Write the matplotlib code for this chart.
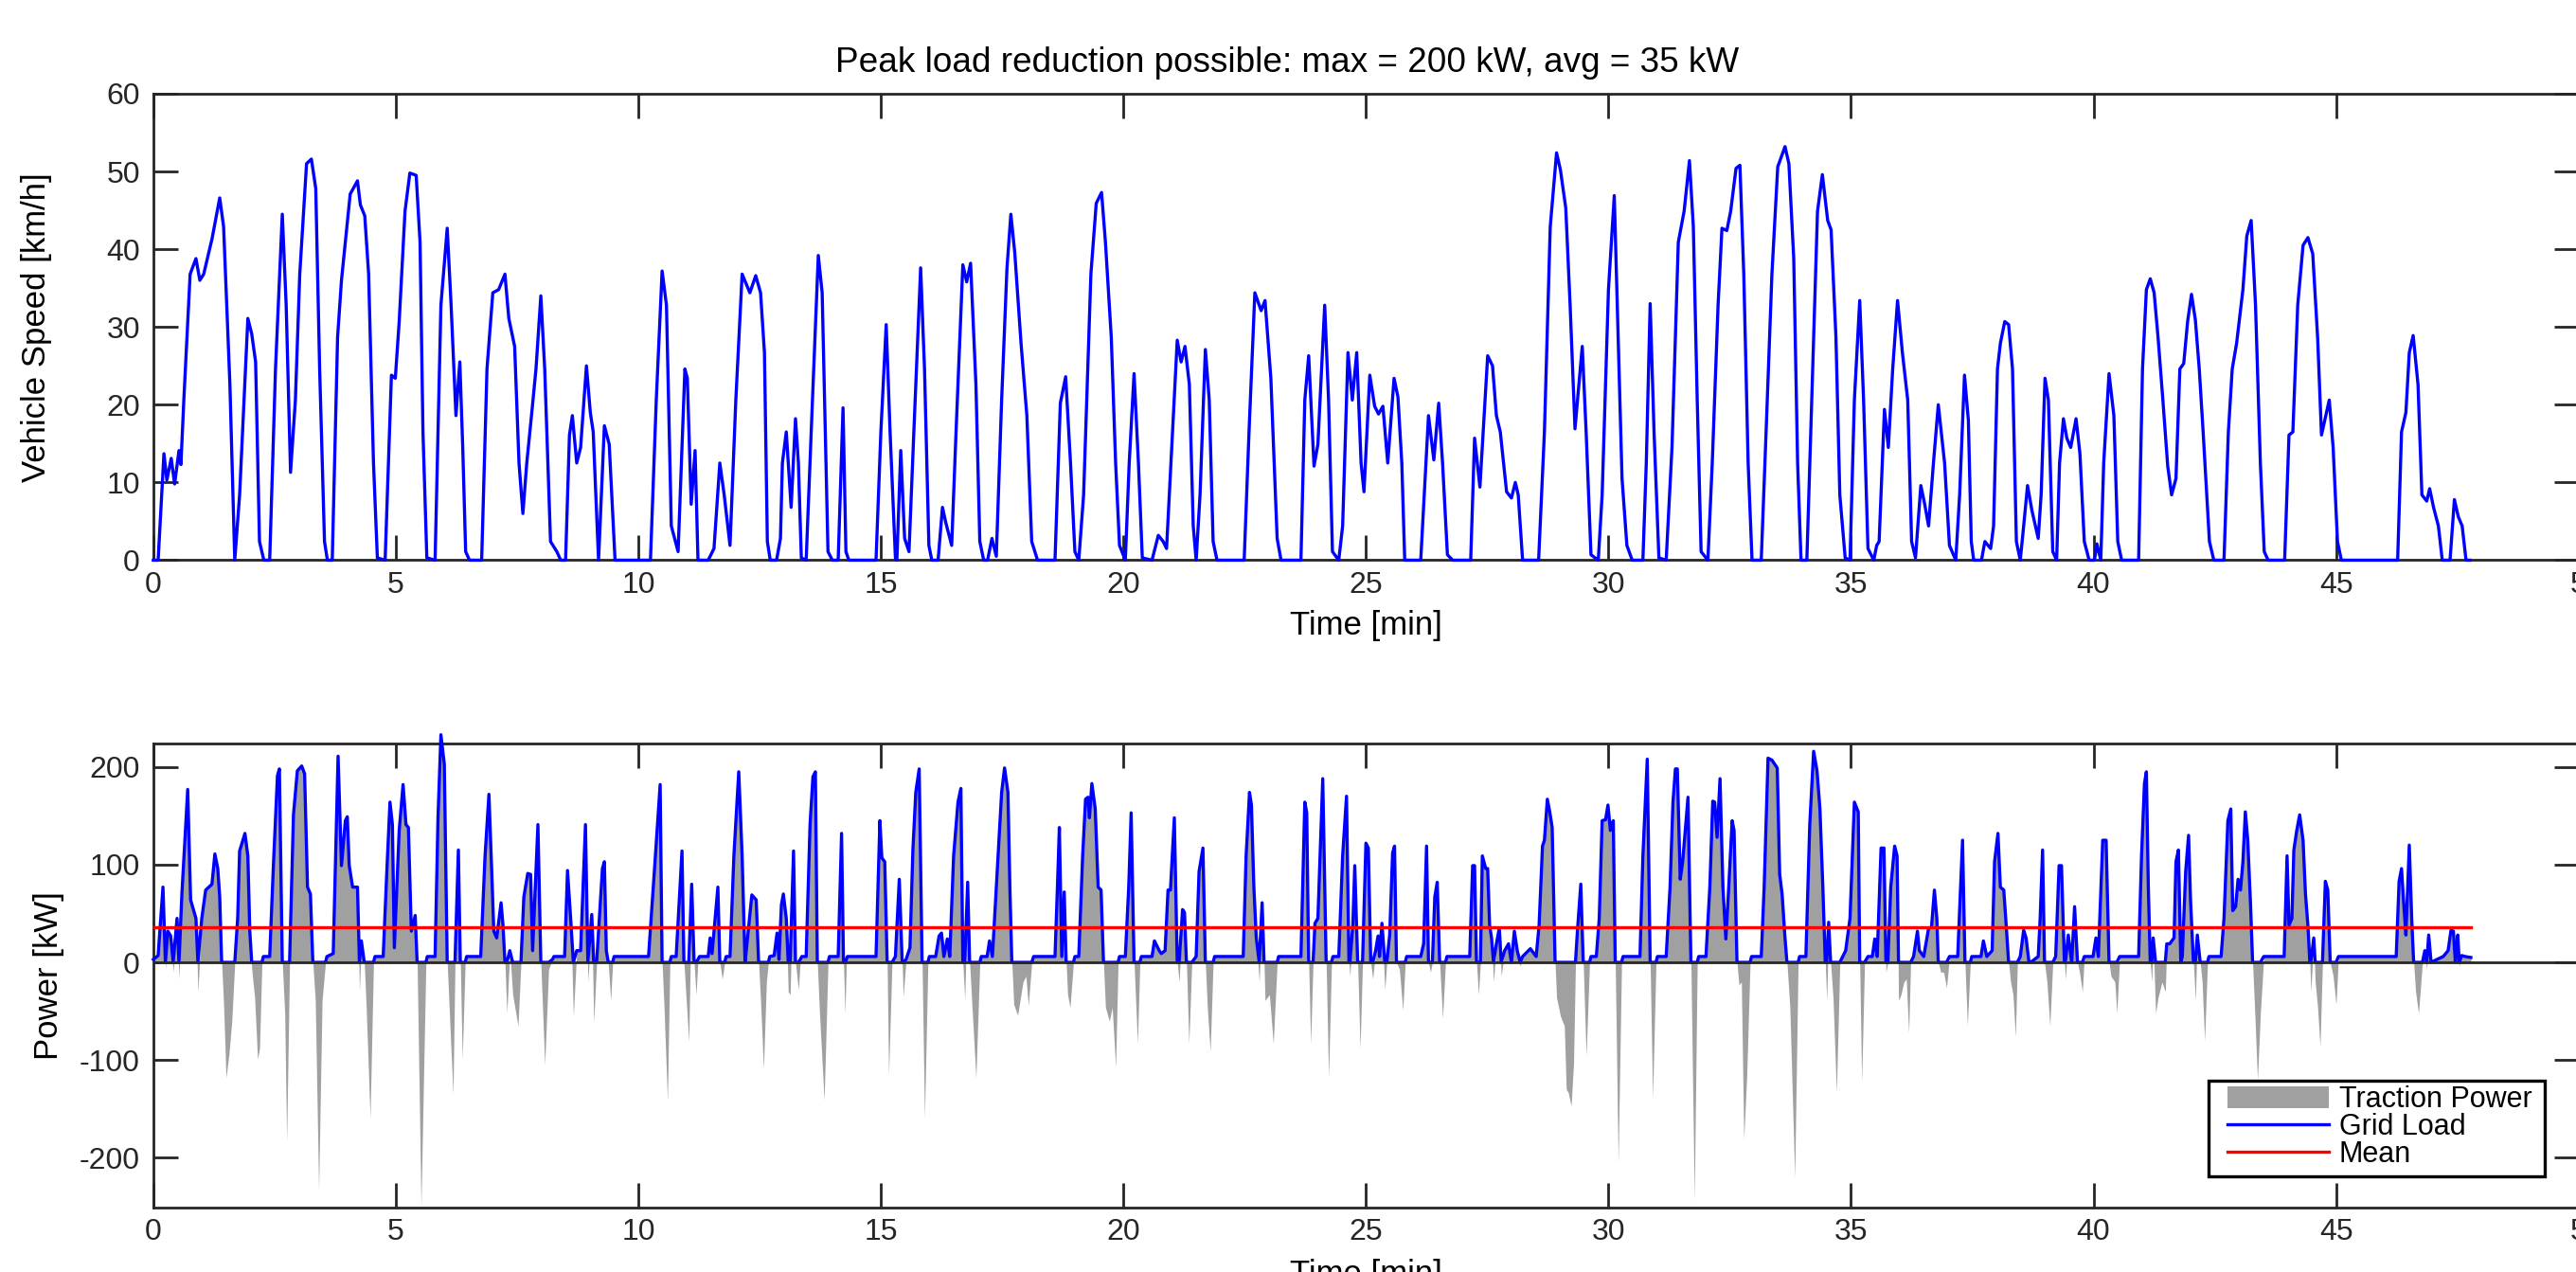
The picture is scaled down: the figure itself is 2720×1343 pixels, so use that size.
import matplotlib
matplotlib.use("Agg")
import matplotlib.pyplot as plt
from matplotlib.patches import Rectangle

plt.rcParams["font.family"] = ["Liberation Sans", "DejaVu Sans"]
plt.rcParams["axes.unicode_minus"] = False

# speed trace (min, km/h)
speed_t = [
    0.00, 0.10, 0.22, 0.28, 0.37, 0.44, 0.53, 0.57, 0.63, 0.76,
    0.88, 0.96, 1.04, 1.21, 1.37, 1.45, 1.58, 1.68, 1.78, 1.95,
    2.03, 2.11, 2.19, 2.28, 2.40, 2.52, 2.66, 2.74, 2.83, 2.93,
    3.02, 3.16, 3.26, 3.35, 3.43, 3.53, 3.59, 3.69, 3.80, 3.88,
    3.96, 4.06, 4.21, 4.27, 4.36, 4.44, 4.54, 4.62, 4.78, 4.91,
    4.99, 5.07, 5.19, 5.29, 5.42, 5.50, 5.56, 5.64, 5.81, 5.93,
    6.06, 6.14, 6.24, 6.32, 6.38, 6.44, 6.52, 6.77, 6.88, 7.00,
    7.12, 7.25, 7.33, 7.45, 7.54, 7.62, 7.70, 7.81, 7.89, 7.99,
    8.07, 8.19, 8.32, 8.40, 8.50, 8.58, 8.64, 8.73, 8.81, 8.93,
    9.01, 9.07, 9.18, 9.30, 9.40, 9.52, 10.25, 10.37, 10.49, 10.58,
    10.68, 10.82, 10.96, 11.01, 11.09, 11.17, 11.23, 11.44, 11.56, 11.68,
    11.77, 11.89, 12.01, 12.14, 12.30, 12.42, 12.52, 12.60, 12.66, 12.72,
    12.85, 12.93, 12.97, 13.05, 13.15, 13.24, 13.30, 13.36, 13.46, 13.59,
    13.71, 13.79, 13.91, 14.00, 14.12, 14.22, 14.28, 14.34, 14.90, 15.00,
    15.11, 15.19, 15.30, 15.33, 15.41, 15.49, 15.58, 15.68, 15.82, 15.90,
    15.99, 16.05, 16.18, 16.27, 16.34, 16.46, 16.55, 16.69, 16.77, 16.85,
    16.96, 17.04, 17.12, 17.20, 17.29, 17.38, 17.49, 17.60, 17.68, 17.76,
    17.89, 18.01, 18.11, 18.23, 18.59, 18.70, 18.81, 18.91, 19.00, 19.08,
    19.18, 19.33, 19.44, 19.55, 19.63, 19.75, 19.84, 19.92, 20.04, 20.12,
    20.22, 20.31, 20.39, 20.59, 20.72, 20.82, 20.89, 20.97, 21.11, 21.19,
    21.27, 21.36, 21.44, 21.50, 21.58, 21.69, 21.77, 21.85, 21.93, 22.49,
    22.59, 22.71, 22.84, 22.92, 23.04, 23.17, 23.25, 23.66, 23.74, 23.82,
    23.93, 24.01, 24.15, 24.23, 24.31, 24.44, 24.52, 24.63, 24.72, 24.81,
    24.90, 24.96, 25.08, 25.18, 25.26, 25.35, 25.45, 25.58, 25.66, 25.74,
    25.80, 26.13, 26.29, 26.40, 26.50, 26.58, 26.68, 26.79, 27.16, 27.24,
    27.35, 27.51, 27.61, 27.69, 27.77, 27.90, 28.00, 28.08, 28.14, 28.23,
    28.56, 28.68, 28.80, 28.93, 29.01, 29.12, 29.21, 29.31, 29.46, 29.54,
    29.64, 29.79, 29.87, 30.00, 30.12, 30.20, 30.28, 30.38, 30.49, 30.71,
    30.78, 30.86, 30.94, 31.04, 31.19, 31.31, 31.44, 31.56, 31.67, 31.75,
    31.83, 31.91, 32.05, 32.14, 32.26, 32.34, 32.44, 32.52, 32.63, 32.71,
    32.79, 32.88, 32.96, 33.15, 33.25, 33.37, 33.49, 33.64, 33.72, 33.82,
    33.90, 33.97, 34.09, 34.19, 34.31, 34.41, 34.52, 34.59, 34.69, 34.77,
    34.88, 34.98, 35.07, 35.18, 35.26, 35.35, 35.47, 35.53, 35.58, 35.69,
    35.77, 35.86, 35.96, 36.06, 36.17, 36.25, 36.33, 36.44, 36.52, 36.60,
    36.70, 36.80, 36.93, 37.03, 37.16, 37.24, 37.34, 37.42, 37.48, 37.53,
    37.69, 37.76, 37.88, 37.94, 38.02, 38.08, 38.17, 38.25, 38.33, 38.41,
    38.49, 38.56, 38.64, 38.73, 38.86, 38.92, 39.00, 39.07, 39.16, 39.24,
    39.30, 39.38, 39.45, 39.53, 39.64, 39.72, 39.81, 39.91, 40.02, 40.07,
    40.15, 40.21, 40.32, 40.42, 40.50, 40.58, 40.93, 41.01, 41.09, 41.17,
    41.25, 41.33, 41.43, 41.53, 41.61, 41.70, 41.78, 41.86, 41.94, 42.02,
    42.10, 42.18, 42.26, 42.39, 42.48, 42.69, 42.78, 42.86, 42.95, 43.08,
    43.16, 43.25, 43.34, 43.44, 43.52, 43.60, 43.94, 44.03, 44.11, 44.21,
    44.32, 44.42, 44.52, 44.62, 44.70, 44.86, 44.94, 45.03, 45.11, 46.27,
    46.35, 46.44, 46.51, 46.59, 46.69, 46.77, 46.87, 46.93, 47.01, 47.11,
    47.19, 47.35, 47.44, 47.52, 47.60, 47.68, 47.76,
]
speed_kmh = [
    0, 0, 13.7, 10.3, 13.1, 9.8, 14.1, 12.3, 20.6, 36.8,
    38.8, 36, 36.8, 41.3, 46.6, 42.9, 22.6, 0, 8.4, 31.1,
    29.1, 25.5, 2.4, 0, 0, 24.6, 44.5, 32.8, 11.3, 20.6,
    36.8, 51, 51.6, 47.8, 24.6, 2.4, 0, 0, 28.7, 36,
    40.9, 47.1, 48.8, 45.7, 44.3, 36.8, 12.5, 0.3, 0, 23.8,
    23.4, 30.7, 44.9, 49.8, 49.5, 40.9, 16.5, 0.3, 0, 32.8,
    42.7, 32.8, 18.6, 25.5, 14.5, 1.1, 0, 0, 24.6, 34.4,
    34.8, 36.8, 31.1, 27.5, 12.5, 6, 12.5, 19.4, 24.6, 34,
    24.6, 2.4, 1.1, 0, 0, 16.1, 18.6, 12.5, 14.5, 25,
    19, 16.5, 0, 17.3, 14.9, 0, 0, 20.6, 37.2, 32.8,
    4.4, 1.1, 24.6, 23.4, 7.2, 14.1, 0, 0, 1.5, 12.5,
    8.4, 1.9, 20.6, 36.8, 34.4, 36.6, 34.4, 26.7, 2.4, 0,
    0, 2.8, 12.5, 16.5, 6.8, 18.2, 12.5, 0.3, 0, 20.6,
    39.2, 34.4, 1.1, 0, 0, 19.6, 1.1, 0, 0, 16.5,
    30.3, 16.5, 0.3, 0, 14.1, 2.8, 1.1, 16.5, 37.6, 24.6,
    1.9, 0, 0, 6.8, 4.8, 1.9, 16.5, 38, 35.8, 38.2,
    22.6, 2.4, 0, 0, 2.8, 0.5, 20.6, 37.6, 44.5, 39.6,
    27.9, 18.6, 2.4, 0, 0, 20.2, 23.6, 12.5, 1.1, 0,
    8.4, 36.8, 45.9, 47.3, 40.9, 28.7, 12.5, 1.9, 0, 12.5,
    24, 12.5, 0.3, 0, 3.2, 2.4, 1.5, 11.3, 28.3, 25.5,
    27.5, 22.6, 4.4, 0, 8.4, 27.1, 20.6, 2.4, 0, 0,
    16.5, 34.4, 32.1, 33.4, 23.4, 2.8, 0, 0, 20.6, 26.3,
    12.1, 14.9, 32.8, 20.6, 1.1, 0, 4.4, 26.7, 20.6, 26.7,
    12.5, 8.8, 23.8, 19.8, 18.8, 19.8, 12.5, 23.4, 21, 12.5,
    0, 0, 18.6, 12.9, 20.2, 12.5, 0.7, 0, 0, 15.7,
    9.4, 26.3, 25, 18.6, 16.5, 8.8, 8, 10, 8.4, 0,
    0, 16.5, 42.9, 52.4, 50.2, 45.3, 32.8, 16.9, 27.5, 16.5,
    0.7, 0, 8.4, 34.8, 46.9, 28.7, 10.5, 1.9, 0, 0,
    12.5, 33, 16.5, 0.3, 0, 14.5, 40.9, 44.9, 51.4, 42.9,
    20.6, 1.1, 0, 12.5, 32.8, 42.7, 42.4, 44.9, 50.4, 50.8,
    36.8, 12.5, 0, 0, 16.5, 36.8, 50.6, 53.2, 51, 38.8,
    12.5, 0, 0, 20.6, 44.9, 49.6, 43.7, 42.5, 28.7, 8.4,
    0.3, 0, 20.6, 33.4, 20.6, 1.5, 0, 1.9, 2.4, 19.4,
    14.5, 24.6, 33.4, 26.7, 20.6, 2.4, 0.3, 9.6, 7.2, 4.4,
    12.5, 20, 12.5, 1.9, 0, 8.4, 23.8, 18, 2.4, 0,
    0, 2.4, 1.5, 4.4, 24.6, 27.9, 30.7, 30.3, 24.6, 2.4,
    0, 4.4, 9.6, 6.4, 2.8, 8.4, 23.4, 20.6, 1.1, 0,
    12.5, 18.2, 15.7, 14.5, 18.2, 13.7, 2.4, 0, 0, 2.1,
    0, 12.5, 24, 18.6, 2.4, 0, 0, 24.6, 34.8, 36.2,
    34.4, 28.7, 20.6, 12.1, 8.4, 10.5, 24.6, 25.3, 30.7, 34.2,
    30.9, 24.6, 16.5, 2.4, 0, 0, 16.5, 24.6, 27.9, 34.8,
    41.7, 43.7, 32.8, 12.5, 1.1, 0, 0, 16.1, 16.5, 32.8,
    40.5, 41.5, 39.4, 28.7, 16.1, 20.6, 14.5, 2.4, 0, 0,
    16.5, 19, 26.7, 28.9, 22.6, 8.4, 7.6, 9.2, 6.8, 4.4,
    0, 0, 7.8, 5.6, 4.4, 0, 0,
]

# power traces (min, kW)
power_t = [
    0.00, 0.10, 0.20, 0.25, 0.30, 0.36, 0.41, 0.49, 0.53, 0.59,
    0.71, 0.77, 0.88, 0.92, 1.00, 1.08, 1.21, 1.27, 1.33, 1.37,
    1.41, 1.45, 1.50, 1.56, 1.62, 1.68, 1.74, 1.78, 1.89, 1.95,
    1.99, 2.03, 2.09, 2.15, 2.19, 2.24, 2.27, 2.40, 2.48, 2.56,
    2.60, 2.66, 2.71, 2.75, 2.81, 2.89, 2.97, 3.06, 3.12, 3.18,
    3.24, 3.29, 3.34, 3.41, 3.48, 3.55, 3.58, 3.71, 3.81, 3.88,
    3.96, 4.00, 4.04, 4.11, 4.21, 4.25, 4.29, 4.35, 4.39, 4.47,
    4.54, 4.57, 4.74, 4.82, 4.88, 4.93, 4.97, 5.07, 5.15, 5.21,
    5.26, 5.32, 5.40, 5.44, 5.52, 5.62, 5.65, 5.81, 5.87, 5.93,
    6.00, 6.06, 6.10, 6.18, 6.22, 6.29, 6.33, 6.37, 6.43, 6.46,
    6.75, 6.84, 6.92, 6.98, 7.02, 7.08, 7.17, 7.21, 7.25, 7.29,
    7.35, 7.41, 7.52, 7.58, 7.64, 7.72, 7.78, 7.82, 7.93, 7.99,
    8.07, 8.15, 8.23, 8.26, 8.48, 8.54, 8.61, 8.66, 8.73, 8.81,
    8.91, 8.96, 9.04, 9.08, 9.14, 9.26, 9.30, 9.34, 9.38, 9.43,
    9.47, 9.50, 10.21, 10.33, 10.45, 10.49, 10.53, 10.60, 10.65, 10.68,
    10.78, 10.90, 10.94, 11.04, 11.10, 11.15, 11.19, 11.23, 11.26, 11.44,
    11.48, 11.52, 11.64, 11.68, 11.73, 11.78, 11.81, 11.89, 11.97, 12.07,
    12.14, 12.20, 12.24, 12.34, 12.43, 12.48, 12.52, 12.58, 12.64, 12.68,
    12.71, 12.80, 12.86, 12.90, 12.95, 12.99, 13.05, 13.09, 13.13, 13.20,
    13.24, 13.30, 13.34, 13.37, 13.46, 13.54, 13.60, 13.65, 13.69, 13.73,
    13.83, 13.87, 13.91, 13.94, 14.12, 14.19, 14.23, 14.26, 14.29, 14.31,
    14.90, 14.98, 15.02, 15.08, 15.13, 15.16, 15.23, 15.30, 15.38, 15.44,
    15.46, 15.52, 15.60, 15.66, 15.72, 15.79, 15.85, 15.90, 15.97, 16.00,
    16.13, 16.20, 16.25, 16.30, 16.37, 16.42, 16.50, 16.59, 16.65, 16.69,
    16.73, 16.79, 16.83, 16.88, 16.96, 17.04, 17.07, 17.19, 17.24, 17.30,
    17.41, 17.49, 17.55, 17.62, 17.66, 17.70, 17.74, 17.82, 17.93, 17.99,
    18.04, 18.11, 18.15, 18.59, 18.64, 18.68, 18.73, 18.78, 18.82, 18.85,
    18.90, 18.97, 19.00, 19.08, 19.16, 19.22, 19.27, 19.30, 19.35, 19.42,
    19.48, 19.54, 19.59, 19.63, 19.71, 19.77, 19.84, 19.89, 19.92, 20.04,
    20.11, 20.16, 20.22, 20.29, 20.34, 20.37, 20.59, 20.64, 20.74, 20.78,
    20.86, 20.92, 20.97, 21.05, 21.11, 21.15, 21.22, 21.26, 21.30, 21.35,
    21.41, 21.50, 21.56, 21.64, 21.69, 21.73, 21.79, 21.85, 21.88, 22.47,
    22.53, 22.60, 22.64, 22.69, 22.74, 22.80, 22.86, 22.90, 22.92, 23.01,
    23.09, 23.17, 23.20, 23.66, 23.74, 23.78, 23.82, 23.86, 23.91, 23.95,
    24.01, 24.11, 24.18, 24.23, 24.29, 24.32, 24.44, 24.52, 24.60, 24.65,
    24.67, 24.73, 24.77, 24.83, 24.88, 24.93, 25.00, 25.05, 25.10, 25.14,
    25.20, 25.25, 25.28, 25.33, 25.39, 25.43, 25.49, 25.55, 25.59, 25.63,
    25.69, 25.76, 25.81, 25.84, 26.13, 26.19, 26.25, 26.29, 26.33, 26.37,
    26.42, 26.47, 26.52, 26.58, 26.64, 26.67, 27.14, 27.20, 27.24, 27.28,
    27.32, 27.36, 27.40, 27.47, 27.51, 27.55, 27.59, 27.63, 27.69, 27.75,
    27.79, 27.86, 27.94, 28.00, 28.06, 28.12, 28.18, 28.23, 28.39, 28.51,
    28.57, 28.64, 28.68, 28.74, 28.79, 28.84, 28.90, 28.93, 29.01, 29.09,
    29.13, 29.17, 29.23, 29.28, 29.32, 29.36, 29.43, 29.48, 29.54, 29.61,
    29.64, 29.75, 29.81, 29.87, 29.94, 29.99, 30.04, 30.10, 30.14, 30.20,
    30.27, 30.30, 30.65, 30.71, 30.80, 30.86, 30.91, 30.98, 31.01, 31.19,
    31.27, 31.33, 31.38, 31.42, 31.48, 31.53, 31.64, 31.70, 31.77, 31.83,
    31.86, 32.01, 32.09, 32.15, 32.19, 32.24, 32.30, 32.36, 32.42, 32.48,
    32.55, 32.59, 32.65, 32.69, 32.74, 32.79, 32.85, 32.92, 32.95, 33.15,
    33.21, 33.29, 33.37, 33.48, 33.53, 33.58, 33.64, 33.68, 33.74, 33.84,
    33.91, 33.94, 34.07, 34.15, 34.23, 34.30, 34.36, 34.42, 34.47, 34.50,
    34.54, 34.58, 34.63, 34.70, 34.77, 34.83, 34.89, 34.98, 35.07, 35.15,
    35.18, 35.22, 35.28, 35.35, 35.44, 35.49, 35.54, 35.62, 35.68, 35.72,
    35.76, 35.82, 35.90, 35.95, 35.98, 36.03, 36.09, 36.14, 36.19, 36.23,
    36.29, 36.37, 36.41, 36.50, 36.60, 36.66, 36.72, 36.77, 36.80, 36.85,
    36.91, 36.97, 37.03, 37.20, 37.30, 37.35, 37.40, 37.46, 37.49, 37.68,
    37.73, 37.80, 37.91, 37.96, 38.03, 38.08, 38.15, 38.20, 38.25, 38.29,
    38.34, 38.39, 38.43, 38.49, 38.56, 38.61, 38.67, 38.73, 38.86, 38.90,
    38.95, 38.99, 39.04, 39.10, 39.16, 39.22, 39.29, 39.34, 39.40, 39.42,
    39.48, 39.55, 39.61, 39.67, 39.71, 39.77, 39.81, 39.99, 40.05, 40.10,
    40.19, 40.26, 40.32, 40.36, 40.44, 40.48, 40.54, 40.93, 40.99, 41.05,
    41.09, 41.13, 41.17, 41.20, 41.23, 41.28, 41.33, 41.41, 41.48, 41.51,
    41.57, 41.66, 41.70, 41.75, 41.80, 41.83, 41.90, 41.96, 42.00, 42.06,
    42.10, 42.14, 42.20, 42.24, 42.29, 42.35, 42.38, 42.63, 42.69, 42.77,
    42.83, 42.87, 42.93, 42.98, 43.03, 43.08, 43.13, 43.18, 43.24, 43.28,
    43.32, 43.38, 43.44, 43.51, 43.93, 43.99, 44.03, 44.09, 44.13, 44.19,
    44.25, 44.32, 44.37, 44.42, 44.46, 44.48, 44.54, 44.57, 44.62, 44.67,
    44.72, 44.78, 44.83, 44.88, 44.94, 45.00, 45.05, 46.24, 46.30, 46.35,
    46.40, 46.44, 46.51, 46.56, 46.60, 46.64, 46.70, 46.75, 46.78, 46.83,
    46.87, 46.91, 46.96, 47.00, 47.08, 47.21, 47.31, 47.37, 47.42, 47.46,
    47.48, 47.51, 47.54, 47.59, 47.66, 47.78,
]
traction_kw = [
    3, 7, 77, -7, 32, 27, -10, 45, -17, 70,
    177, 64, 45, -30, 45, 74, 80, 111, 96, 67,
    0, -43, -118, -94, -59, 0, 45, 114, 132, 109,
    32, -7, -36, -99, -88, 0, 6, 6, 103, 191,
    198, 0, -52, -183, 0, 151, 196, 201, 193, 77,
    70, 0, -39, -233, -39, 0, 6, 9, 211, 99,
    145, 149, 99, 77, 77, -30, 22, 0, -46, -159,
    0, 6, 6, 99, 164, 141, 15, 135, 182, 141,
    138, 32, 48, 0, -249, 0, 6, 6, 148, 233,
    203, 0, -46, -135, 0, 115, 0, -99, 0, 6,
    6, 109, 172, 90, 32, 25, 61, 38, 0, -52,
    12, -33, -65, 0, 67, 91, 90, 12, 141, 0,
    -105, -7, 3, 6, 6, 94, 41, -55, 12, 12,
    141, -20, 49, -62, 0, 96, 103, 12, 0, -39,
    0, 6, 6, 93, 182, 0, -46, -141, 0, 6,
    6, 114, 0, -81, 80, 0, -33, 3, 6, 6,
    25, 9, 77, 0, -17, 0, 6, 6, 109, 195,
    109, 0, 19, 69, 64, 0, -39, -109, -20, 0,
    6, 7, 30, 3, 59, 70, 45, -30, -33, 114,
    0, -28, 3, 6, 6, 141, 190, 195, 0, -46,
    -141, -72, 0, 6, 6, 132, 0, -52, 3, 6,
    6, 145, 107, 103, 0, -115, 0, 6, 85, 0,
    -35, 3, 15, 115, 174, 198, 0, -159, 0, 6,
    6, 27, 30, 6, 24, 6, 109, 164, 178, 0,
    -38, 82, 0, -46, -118, 0, 6, 6, 22, 6,
    103, 174, 199, 174, 77, 0, -43, -54, -20, -14,
    -44, 0, 6, 6, 77, 138, 6, 72, 0, -33,
    -46, 0, 6, 6, 109, 167, 169, 148, 183, 157,
    77, 74, 0, -46, -60, -46, -107, 0, 6, 6,
    77, 153, 0, -83, 0, 6, 6, 22, 12, 9,
    12, 74, 74, 148, 0, -20, 54, 51, 0, -83,
    0, 6, 93, 117, 0, -46, -91, 0, 6, 6,
    109, 174, 161, 77, 25, -20, 61, 0, -39, -33,
    -83, 0, 6, 6, 164, 153, 0, -83, 0, 40,
    45, 188, 0, -118, 0, 6, 6, 109, 170, 0,
    -14, 38, 99, 0, -88, 0, 122, 117, 0, -17,
    12, 27, 6, 40, -28, 0, 28, 112, 119, 0,
    -7, -49, 0, 6, 6, 19, 119, 0, -10, 0,
    67, 82, 0, -57, 0, 6, 6, 99, 99, 0,
    -33, 0, 109, 96, 96, 38, 25, -20, 19, 35,
    -14, 12, 19, 0, 32, 12, -4, 6, 14, 6,
    38, 119, 125, 167, 154, 138, 0, -36, -55, -65,
    -130, -133, -147, -104, 0, 32, 80, 0, -96, 0,
    6, 6, 45, 145, 146, 161, 135, 145, 0, -205,
    0, 6, 6, 109, 208, 0, -139, 0, 6, 6,
    77, 164, 198, 198, 85, 103, 169, 0, -243, 0,
    6, 6, 77, 165, 164, 128, 188, 77, 24, 77,
    145, 135, 0, -23, -20, -181, -117, 0, 6, 6,
    77, 209, 207, 199, 90, 70, 25, 0, -46, -220,
    0, 6, 6, 141, 216, 196, 157, 77, 0, -39,
    41, 0, -36, -133, 0, 6, 12, 45, 164, 154,
    0, -122, 0, 6, 6, 24, 6, 117, 117, -10,
    0, 77, 119, 109, -39, -33, -20, -17, -72, 0,
    6, 32, 12, 6, 35, 36, 74, 45, 0, -10,
    -10, -26, 6, 6, 125, 0, -64, 0, 6, 6,
    22, 6, 12, 103, 132, 77, 74, 38, 0, -20,
    -33, -76, 0, 6, 33, 25, 0, 1, 6, 45,
    115, 0, -20, -65, 0, 6, 99, 99, 0, -17,
    28, 0, 57, 0, -10, -30, 6, 6, 25, 6,
    125, 125, 0, -14, -20, -52, 6, 6, 109, 183,
    195, 77, 0, -20, 25, -52, -36, -20, -30, 19,
    19, 25, 103, 115, 0, 6, 93, 130, 64, 0,
    -39, 28, 0, -20, -80, 0, 6, 6, 45, 145,
    157, 53, 57, 85, 74, 103, 154, 125, 56, 0,
    -46, -120, -52, 6, 6, 109, 38, 45, 115, 135,
    151, 125, 70, 38, 0, -30, 25, -20, -46, -86,
    0, 83, 74, 0, -14, -43, 6, 6, 83, 96,
    57, 28, 120, 45, 0, -30, -52, -20, 0, 12,
    -7, 28, 0, 1, 3, 6, 12, 33, 32, 0,
    12, 28, -4, 7, 6, 5,
]
grid_kw = [
    3, 7, 77, 0, 32, 27, 0, 45, 0, 70,
    177, 64, 45, 0, 45, 74, 80, 111, 96, 67,
    0, 0, 0, 0, 0, 0, 45, 114, 132, 109,
    32, 0, 0, 0, 0, 0, 6, 6, 103, 191,
    198, 0, 0, 0, 0, 151, 196, 201, 193, 77,
    70, 0, 0, 0, 0, 0, 6, 9, 211, 99,
    145, 149, 99, 77, 77, 0, 22, 0, 0, 0,
    0, 6, 6, 99, 164, 141, 15, 135, 182, 141,
    138, 32, 48, 0, 0, 0, 6, 6, 148, 233,
    203, 0, 0, 0, 0, 115, 0, 0, 0, 6,
    6, 109, 172, 90, 32, 25, 61, 38, 0, 0,
    12, 0, 0, 0, 67, 91, 90, 12, 141, 0,
    0, 0, 3, 6, 6, 94, 41, 0, 12, 12,
    141, 0, 49, 0, 0, 96, 103, 12, 0, 0,
    0, 6, 6, 93, 182, 0, 0, 0, 0, 6,
    6, 114, 0, 0, 80, 0, 0, 3, 6, 6,
    25, 9, 77, 0, 0, 0, 6, 6, 109, 195,
    109, 0, 19, 69, 64, 0, 0, 0, 0, 0,
    6, 7, 30, 3, 59, 70, 45, 0, 0, 114,
    0, 0, 3, 6, 6, 141, 190, 195, 0, 0,
    0, 0, 0, 6, 6, 132, 0, 0, 3, 6,
    6, 145, 107, 103, 0, 0, 0, 6, 85, 0,
    0, 3, 15, 115, 174, 198, 0, 0, 0, 6,
    6, 27, 30, 6, 24, 6, 109, 164, 178, 0,
    0, 82, 0, 0, 0, 0, 6, 6, 22, 6,
    103, 174, 199, 174, 77, 0, 0, 0, 0, 0,
    0, 0, 6, 6, 77, 138, 6, 72, 0, 0,
    0, 0, 6, 6, 109, 167, 169, 148, 183, 157,
    77, 74, 0, 0, 0, 0, 0, 0, 6, 6,
    77, 153, 0, 0, 0, 6, 6, 22, 12, 9,
    12, 74, 74, 148, 0, 0, 54, 51, 0, 0,
    0, 6, 93, 117, 0, 0, 0, 0, 6, 6,
    109, 174, 161, 77, 25, 0, 61, 0, 0, 0,
    0, 0, 6, 6, 164, 153, 0, 0, 0, 40,
    45, 188, 0, 0, 0, 6, 6, 109, 170, 0,
    0, 38, 99, 0, 0, 0, 122, 117, 0, 0,
    12, 27, 6, 40, 0, 0, 28, 112, 119, 0,
    0, 0, 0, 6, 6, 19, 119, 0, 0, 0,
    67, 82, 0, 0, 0, 6, 6, 99, 99, 0,
    0, 0, 109, 96, 96, 38, 25, 0, 19, 35,
    0, 12, 19, 0, 32, 12, 0, 6, 14, 6,
    38, 119, 125, 167, 154, 138, 0, 0, 0, 0,
    0, 0, 0, 0, 0, 32, 80, 0, 0, 0,
    6, 6, 45, 145, 146, 161, 135, 145, 0, 0,
    0, 6, 6, 109, 208, 0, 0, 0, 6, 6,
    77, 164, 198, 198, 85, 103, 169, 0, 0, 0,
    6, 6, 77, 165, 164, 128, 188, 77, 24, 77,
    145, 135, 0, 0, 0, 0, 0, 0, 6, 6,
    77, 209, 207, 199, 90, 70, 25, 0, 0, 0,
    0, 6, 6, 141, 216, 196, 157, 77, 0, 0,
    41, 0, 0, 0, 0, 6, 12, 45, 164, 154,
    0, 0, 0, 6, 6, 24, 6, 117, 117, 0,
    0, 77, 119, 109, 0, 0, 0, 0, 0, 0,
    6, 32, 12, 6, 35, 36, 74, 45, 0, 0,
    0, 0, 6, 6, 125, 0, 0, 0, 6, 6,
    22, 6, 12, 103, 132, 77, 74, 38, 0, 0,
    0, 0, 0, 6, 33, 25, 0, 1, 6, 45,
    115, 0, 0, 0, 0, 6, 99, 99, 0, 0,
    28, 0, 57, 0, 0, 0, 6, 6, 25, 6,
    125, 125, 0, 0, 0, 0, 6, 6, 109, 183,
    195, 77, 0, 0, 25, 0, 0, 0, 0, 19,
    19, 25, 103, 115, 0, 6, 93, 130, 64, 0,
    0, 28, 0, 0, 0, 0, 6, 6, 45, 145,
    157, 53, 57, 85, 74, 103, 154, 125, 56, 0,
    0, 0, 0, 6, 6, 109, 38, 45, 115, 135,
    151, 125, 70, 38, 0, 0, 25, 0, 0, 0,
    0, 83, 74, 0, 0, 0, 6, 6, 83, 96,
    57, 28, 120, 45, 0, 0, 0, 0, 0, 12,
    0, 28, 0, 1, 3, 6, 12, 33, 32, 0,
    12, 28, 0, 7, 6, 5,
]
mean_kw = 36

title = "Peak load reduction possible: max = 200 kW, avg = 35 kW"
x_ticks = [0, 5, 10, 15, 20, 25, 30, 35, 40, 45, 50]
x_ticklabels = ["0", "5", "10", "15", "20", "25", "30", "35", "40", "45", "5"]
speed_ticks = [0, 10, 20, 30, 40, 50, 60]
power_ticks = [-200, -100, 0, 100, 200]

INK = "#262626"
W, H = 2720, 1343


def matlab_axes(ax):
    for s in ax.spines.values():
        s.set_linewidth(1.0)
        s.set_color(INK)
    ax.tick_params(direction="in", length=9.5, width=1.0, color=INK,
                   labelcolor=INK, labelsize=11.5, top=True, right=True)
    ax.tick_params(axis="x", pad=4)
    ax.tick_params(axis="y", pad=5)
    ax.set_xlim(0, 50)
    ax.set_xticks(x_ticks)
    ax.set_xticklabels(x_ticklabels)


fig = plt.figure(figsize=(W / 200, H / 200), dpi=200)
ax1 = fig.add_axes([0.0595, 0.5596, 0.9415, 0.3667])
ax2 = fig.add_axes([0.0595, 0.0506, 0.9415, 0.3649])

# upper panel: vehicle speed
ax1.plot(speed_t, speed_kmh, color="blue", lw=1.2, clip_on=False, zorder=3)
matlab_axes(ax1)
ax1.set_ylim(0, 60)
ax1.set_yticks(speed_ticks)
ax1.set_xlabel("Time [min]", fontsize=12.5, color="black")
ax1.xaxis.set_label_coords(0.5, -0.141)
ax1.xaxis.label.set_va("center")
ax1.set_ylabel("Vehicle Speed [km/h]", fontsize=12.5, color="black")
ax1.yaxis.set_label_coords(-0.048, 0.5)
ax1.yaxis.label.set_va("center")
ax1.yaxis.label.set_rotation_mode("anchor")

# lower panel: traction power, grid load and its mean
ax2.fill_between(power_t, 0, traction_kw, color="#a0a0a0", lw=0,
                 label="Traction Power", clip_on=False, zorder=2)
ax2.plot(power_t, grid_kw, color="blue", lw=1.2, label="Grid Load",
         clip_on=False, zorder=3)
ax2.plot([power_t[0], power_t[-1]], [mean_kw, mean_kw], color="red", lw=1.2,
         label="Mean", zorder=4)
ax2.axhline(0, color=INK, lw=1.0, zorder=5)
matlab_axes(ax2)
ax2.set_ylim(-251, 224)
ax2.set_yticks(power_ticks)
ax2.set_xlabel("Time [min]", fontsize=12.5, color="black")
ax2.xaxis.set_label_coords(0.5, -0.143)
ax2.xaxis.label.set_va("center")
ax2.set_ylabel("Power [kW]", fontsize=12.5, color="black")
ax2.yaxis.set_label_coords(-0.0429, 0.5)
ax2.yaxis.label.set_va("center")
ax2.yaxis.label.set_rotation_mode("anchor")

# legend: MATLAB-style tight box, frame drawn separately
box = Rectangle((2332 / W, 1 - 1242 / H), 355 / W, 101 / H,
                transform=fig.transFigure, facecolor="white",
                edgecolor="black", lw=1.2, zorder=4)
fig.add_artist(box)
handles, labels = ax2.get_legend_handles_labels()
leg = fig.legend(handles, labels, loc="upper left",
                 bbox_to_anchor=(2352 / W, 1 - 1146 / H),
                 bbox_transform=fig.transFigure, borderaxespad=0,
                 fontsize=11, frameon=False, handlelength=3.5,
                 handleheight=0.75, handletextpad=0.35, labelspacing=-0.04,
                 borderpad=0)
leg.set_zorder(5)

fig.text(0.4995, 1 - 76 / H, title, ha="center", va="baseline",
         fontsize=13.3, color="black")

fig.savefig("out.png", dpi=200)
